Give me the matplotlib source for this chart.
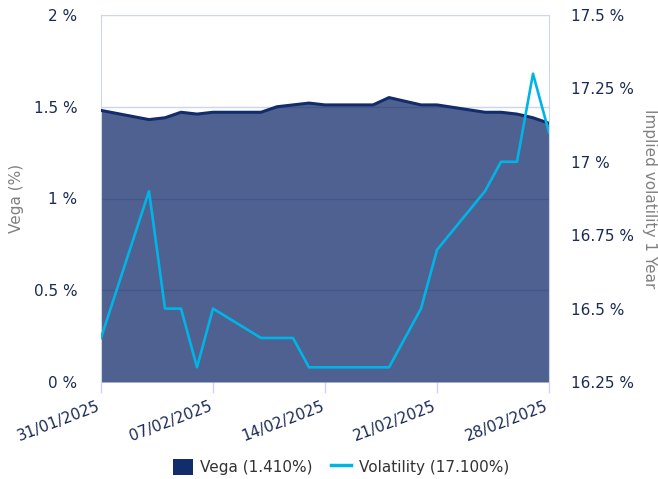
import matplotlib.pyplot as plt
import matplotlib.dates as mdates
import matplotlib.transforms as mtransforms
from matplotlib.patches import Patch
from matplotlib.lines import Line2D
import pandas as pd

dates = ['2025-01-31', '2025-02-03', '2025-02-04', '2025-02-05', '2025-02-06', '2025-02-07',
         '2025-02-10', '2025-02-11', '2025-02-12', '2025-02-13', '2025-02-14',
         '2025-02-17', '2025-02-18', '2025-02-19', '2025-02-20', '2025-02-21',
         '2025-02-24', '2025-02-25', '2025-02-26', '2025-02-27', '2025-02-28']
vega = [1.48, 1.43, 1.44, 1.47, 1.46, 1.47,
        1.47, 1.50, 1.51, 1.52, 1.51,
        1.51, 1.55, 1.53, 1.51, 1.51,
        1.47, 1.47, 1.46, 1.44, 1.41]
volatility = [16.40, 16.90, 16.50, 16.50, 16.30, 16.50,
              16.40, 16.40, 16.40, 16.30, 16.30,
              16.30, 16.30, 16.40, 16.50, 16.70,
              16.90, 17.00, 17.00, 17.30, 17.10]
vega_ticks = [0, 0.5, 1, 1.5, 2]
vol_ticks = [16.25, 16.5, 16.75, 17, 17.25, 17.5]
x_ticks = ['2025-01-31', '2025-02-07', '2025-02-14', '2025-02-21', '2025-02-28']

navy = '#132c6b'
cyan = '#00b4e6'
label_col = '#1c2b55'
grid_col = '#ccd6eb'

x = pd.to_datetime(dates)

fig = plt.figure(figsize=(6.58, 4.79), dpi=100)
ax = fig.add_axes([101/658, 1-382/479, 448/658, 367/479])
ax2 = ax.twinx()

ax.set_zorder(1)
ax2.set_zorder(2)
ax.patch.set_visible(False)

ax.fill_between(x, vega, 0, color=navy, alpha=0.75, lw=0, zorder=2)
ax.plot(x, vega, color=navy, lw=2.2, zorder=3)
ax2.plot(x, volatility, color=cyan, lw=1.9)

ax.set_xlim(x[0], x[-1])
ax.set_ylim(0, 2)
ax2.set_ylim(16.25, 17.5)

ax.set_yticks(vega_ticks)
ax.set_yticklabels([f'{v:g} %' for v in vega_ticks])
ax2.set_yticks(vol_ticks)
ax2.set_yticklabels([f'{v:g} %' for v in vol_ticks])
ax.grid(axis='y', color=grid_col, lw=1, zorder=0)
ax.set_axisbelow(True)

ax.set_xticks(pd.to_datetime(x_ticks))
ax.xaxis.set_major_formatter(mdates.DateFormatter('%d/%m/%Y'))
ax.tick_params(axis='x', length=8, color=grid_col, width=1, pad=4,
               labelsize=11, labelcolor=label_col)
offset = mtransforms.ScaledTranslation(-4/100, 0, fig.dpi_scale_trans)
for lab in ax.get_xticklabels():
    lab.set_rotation(21)
    lab.set_ha('right')
    lab.set_va('top')
    lab.set_rotation_mode('anchor')
    lab.set_transform(lab.get_transform() + offset)
ax.tick_params(axis='y', length=0, pad=17, labelsize=11, labelcolor=label_col)
ax2.tick_params(axis='y', length=0, pad=16, labelsize=11, labelcolor=label_col)

for a in (ax, ax2):
    for s in a.spines.values():
        s.set_visible(False)
ax.spines['left'].set_visible(True)
ax.spines['left'].set_color(grid_col)
ax2.spines['right'].set_visible(True)
ax2.spines['right'].set_color(grid_col)

ax.set_ylabel('Vega (%)', fontsize=11, color='#808080', va='center')
ax.yaxis.set_label_coords(-84/448, 0.5)
ax2.set_ylabel('Implied volatility 1 Year', fontsize=11, color='#808080',
               rotation=270, va='center')
ax2.yaxis.set_label_coords(548/448, 0.5)

handles = [Patch(facecolor=navy, edgecolor='none'),
           Line2D([0], [0], color=cyan, lw=2.5)]
fig.legend(handles, ['Vega (1.410%)', 'Volatility (17.100%)'],
           loc='center', bbox_to_anchor=(341/658, 1-467/479), ncol=2,
           frameon=False, fontsize=11, labelcolor='#333333',
           handlelength=1.3, handleheight=1.3, columnspacing=1.2, handletextpad=0.5)

fig.savefig('out.png', dpi=100)
